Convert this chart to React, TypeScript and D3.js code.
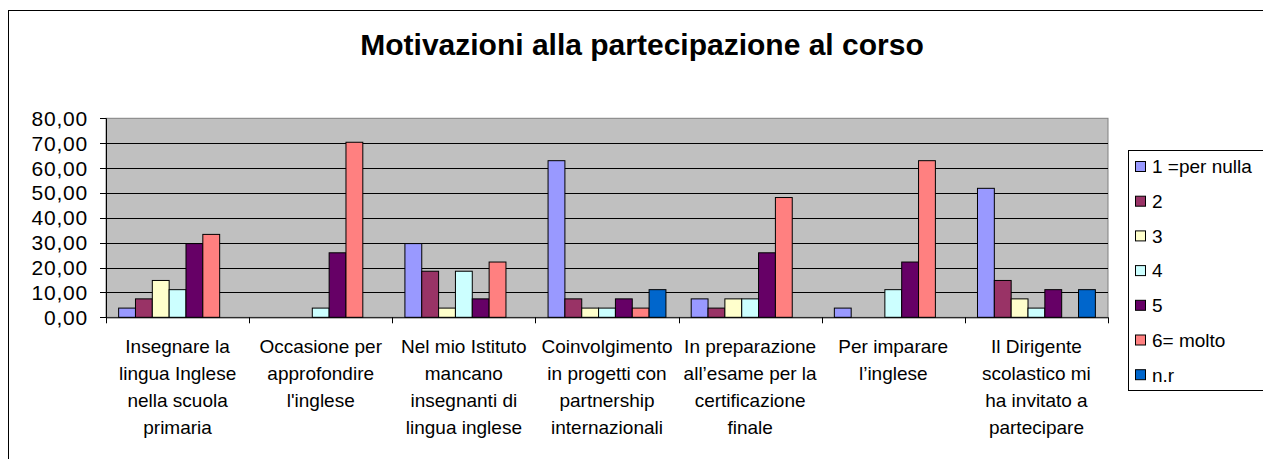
import React from "react";
import * as d3 from "d3";

const categories = [
  ["Insegnare la", "lingua Inglese", "nella scuola", "primaria"],
  ["Occasione per", "approfondire", "l'inglese"],
  ["Nel mio Istituto", "mancano", "insegnanti di", "lingua inglese"],
  ["Coinvolgimento", "in progetti con", "partnership", "internazionali"],
  ["In preparazione", "all’esame per la", "certificazione", "finale"],
  ["Per imparare", "l’inglese"],
  ["Il Dirigente", "scolastico mi", "ha invitato a", "partecipare"],
];

const seriesNames = ["1 =per nulla", "2", "3", "4", "5", "6= molto", "n.r"];
const seriesColors = ["#9999FF", "#993366", "#FFFFCC", "#CCFFFF", "#660066", "#FF8080", "#0066CC"];

const perNulla = [3.7, 0, 29.63, 62.96, 7.41, 3.7, 51.85];
const due = [7.41, 0, 18.52, 7.41, 3.7, 0, 14.81];
const tre = [14.81, 0, 3.7, 3.7, 7.41, 0, 7.41];
const quattro = [11.11, 3.7, 18.52, 3.7, 7.41, 11.11, 3.7];
const cinque = [29.63, 25.93, 7.41, 7.41, 25.93, 22.22, 11.11];
const molto = [33.33, 70.37, 22.22, 3.7, 48.15, 62.96, 0];
const nr = [0, 0, 0, 11.11, 0, 0, 11.11];

const seriesValues = [perNulla, due, tre, quattro, cinque, molto, nr];
const yTicks = [0, 10, 20, 30, 40, 50, 60, 70, 80];

const FONT = "'Liberation Sans', Arial, sans-serif";

export default function App() {
  const left = 106;
  const right = 1108;
  const top = 118.3;
  const bottom = 317.3;

  const catIdx = categories.map((_, i) => String(i));
  const x0 = d3.scaleBand<string>().domain(catIdx).range([left, right]);
  const x1 = d3
    .scaleBand<string>()
    .domain(seriesNames)
    .range([0, x0.bandwidth()])
    .paddingInner(0)
    .paddingOuter(0.75);
  const y = d3.scaleLinear().domain([0, 80]).range([bottom, top]);
  const fmt = (v: number) => d3.format(".2f")(v).replace(".", ",");

  return (
    <svg
      width={1263}
      height={459}
      style={{ position: "absolute", left: 0, top: 0, background: "#fff" }}
      fontFamily={FONT}
    >
      {/* chart border */}
      <rect x={8.5} y={10.5} width={1300} height={500} fill="#fff" stroke="#000" strokeWidth={1} />

      <text x={642} y={55} textAnchor="middle" fontSize={30} fontWeight="bold">
        Motivazioni alla partecipazione al corso
      </text>

      {/* plot area */}
      <rect x={left} y={top} width={right - left} height={bottom - top} fill="#C0C0C0" stroke="#808080" />

      {yTicks.map((t) => (
        <g key={t}>
          {t > 0 && t < 80 && (
            <line x1={left} x2={right} y1={Math.round(y(t)) + 0.5} y2={Math.round(y(t)) + 0.5} stroke="#000" />
          )}
          <line x1={left - 6} x2={left} y1={Math.round(y(t)) + 0.5} y2={Math.round(y(t)) + 0.5} stroke="#000" />
          <text x={88} y={y(t)} dy="0.36em" textAnchor="end" fontSize={21} letterSpacing={0.8}>
            {fmt(t)}
          </text>
        </g>
      ))}

      {/* bars */}
      {categories.map((_, ci) => (
        <g key={ci} transform={`translate(${x0(String(ci))},0)`}>
          {seriesNames.map((s, si) => {
            const v = seriesValues[si][ci];
            if (v <= 0) return null;
            return (
              <rect
                key={s}
                x={x1(s)}
                y={y(v)}
                width={x1.bandwidth()}
                height={y(0) - y(v)}
                fill={seriesColors[si]}
                stroke="#000"
                strokeWidth={1}
              />
            );
          })}
        </g>
      ))}

      {/* axes */}
      <line x1={left + 0.5} x2={left + 0.5} y1={top} y2={bottom} stroke="#000" />
      <line x1={left} x2={right} y1={bottom + 0.5} y2={bottom + 0.5} stroke="#000" />
      {d3.range(categories.length + 1).map((i) => {
        const xx = Math.round(left + i * x0.step()) + 0.5;
        return <line key={i} x1={xx} x2={xx} y1={bottom} y2={bottom + 6} stroke="#000" />;
      })}

      {/* category labels */}
      {categories.map((lines, ci) => (
        <text
          key={ci}
          x={(x0(String(ci)) as number) + x0.bandwidth() / 2}
          y={353}
          textAnchor="middle"
          fontSize={19}
        >
          {lines.map((l, li) => (
            <tspan key={li} x={(x0(String(ci)) as number) + x0.bandwidth() / 2} dy={li === 0 ? 0 : 27}>
              {l}
            </tspan>
          ))}
        </text>
      ))}

      {/* legend */}
      <rect x={1128.5} y={150.5} width={200} height={240} fill="#fff" stroke="#000" />
      {seriesNames.map((s, i) => {
        const cy = 166.5 + i * 34.7;
        return (
          <g key={s}>
            <rect x={1135.5} y={cy - 5} width={10} height={10} fill={seriesColors[i]} stroke="#000" />
            <text x={1152} y={cy} dy="0.36em" fontSize={19}>
              {s}
            </text>
          </g>
        );
      })}
    </svg>
  );
}
